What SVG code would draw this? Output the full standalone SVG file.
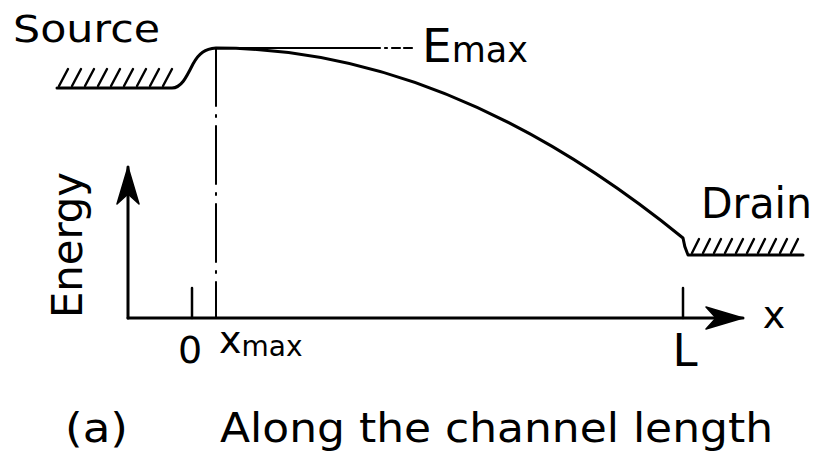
<svg xmlns="http://www.w3.org/2000/svg" width="815" height="457" viewBox="0 0 815 457">
  <style>
    .t { font-family: "DejaVu Sans", "Liberation Sans", sans-serif; fill: #000; }
    .ln { fill: none; stroke: #000; stroke-linecap: round; stroke-linejoin: round; }
    .hatch { stroke: #000; stroke-width: 2.4; stroke-linecap: round; }
  </style>
  <defs>
    <marker id="arr" markerUnits="userSpaceOnUse" viewBox="0 0 40 26" refX="38" refY="13" markerWidth="40" markerHeight="26" orient="auto">
      <path d="M38,13 L1,2 L11,13 L1,24 Z" fill="#000" stroke="#000" stroke-width="1.5" stroke-linejoin="round"/>
    </marker>
  </defs>
  <rect width="815" height="457" fill="#fff"/>

  <!-- Source contact -->
  <g id="source">
    <text class="t" x="13" y="42" font-size="38" textLength="147" lengthAdjust="spacingAndGlyphs">Source</text>
    <g class="hatch">
      <line x1="59" y1="86" x2="68" y2="69"/>
      <line x1="72" y1="86" x2="81" y2="69"/>
      <line x1="85" y1="86" x2="94" y2="69"/>
      <line x1="98" y1="86" x2="107" y2="69"/>
      <line x1="111" y1="86" x2="120" y2="69"/>
      <line x1="124" y1="86" x2="133" y2="69"/>
      <line x1="137" y1="86" x2="146" y2="69"/>
      <line x1="150" y1="86" x2="159" y2="69"/>
      <line x1="163" y1="86" x2="172" y2="69"/>
    </g>
  </g>

  <!-- Drain contact -->
  <g id="drain">
    <text class="t" x="701" y="218" font-size="42" textLength="111" lengthAdjust="spacingAndGlyphs">Drain</text>
    <g class="hatch">
      <line x1="692" y1="253" x2="699" y2="239"/>
      <line x1="703" y1="253" x2="710" y2="239"/>
      <line x1="714" y1="253" x2="721" y2="239"/>
      <line x1="725" y1="253" x2="732" y2="239"/>
      <line x1="736" y1="253" x2="743" y2="239"/>
      <line x1="747" y1="253" x2="754" y2="239"/>
      <line x1="758" y1="253" x2="765" y2="239"/>
      <line x1="769" y1="253" x2="776" y2="239"/>
      <line x1="780" y1="253" x2="787" y2="239"/>
      <line x1="791" y1="253" x2="798" y2="239"/>
    </g>
  </g>

  <!-- Energy band curve -->
  <g id="band">
    <path class="ln" stroke-width="3" d="M57,88 L172,88 C181,88 186,78 193,64 C199,53 205,49 216,48 Q449.5,48 683,238 Q684,246 688,255 L803,255"/>
  </g>

  <!-- Reference lines (Emax, xmax) -->
  <g id="guides">
    <path class="ln" stroke-width="2.2" d="M216,48 L380,48 M385,48 L387,48 M392,48 L400,48 M404,48 L412,48"/>
    <path class="ln" stroke-width="2" stroke-dasharray="58,9,2,9" d="M216,48 L216,318"/>
    <text class="t" x="422" y="62" font-size="47">E<tspan font-size="35">max</tspan></text>
  </g>

  <!-- Axes -->
  <g id="axes">
    <path class="ln" stroke-width="3" d="M128,318 L128,167" marker-end="url(#arr)"/>
    <path class="ln" stroke-width="3" d="M128,318 L743,318" marker-end="url(#arr)"/>
    <line class="ln" stroke-width="2.5" x1="192" y1="288" x2="192" y2="318"/>
    <line class="ln" stroke-width="2.5" x1="683" y1="288" x2="683" y2="318"/>
    <text class="t" x="774" y="328" font-size="38" text-anchor="middle">x</text>
    <text class="t" x="190" y="363" font-size="38" text-anchor="middle">0</text>
    <text class="t" x="219" y="353" font-size="38">x<tspan font-size="28" dy="3">max</tspan></text>
    <text class="t" x="685" y="366" font-size="45" text-anchor="middle">L</text>
    <text class="t" font-size="42" text-anchor="middle" transform="translate(82,245) rotate(-90)" textLength="146" lengthAdjust="spacingAndGlyphs">Energy</text>
  </g>

  <!-- Caption -->
  <g id="caption">
    <text class="t" x="65" y="442" font-size="40" textLength="63" lengthAdjust="spacingAndGlyphs">(a)</text>
    <text class="t" x="220" y="442" font-size="40" textLength="553" lengthAdjust="spacingAndGlyphs">Along the channel length</text>
  </g>
</svg>
